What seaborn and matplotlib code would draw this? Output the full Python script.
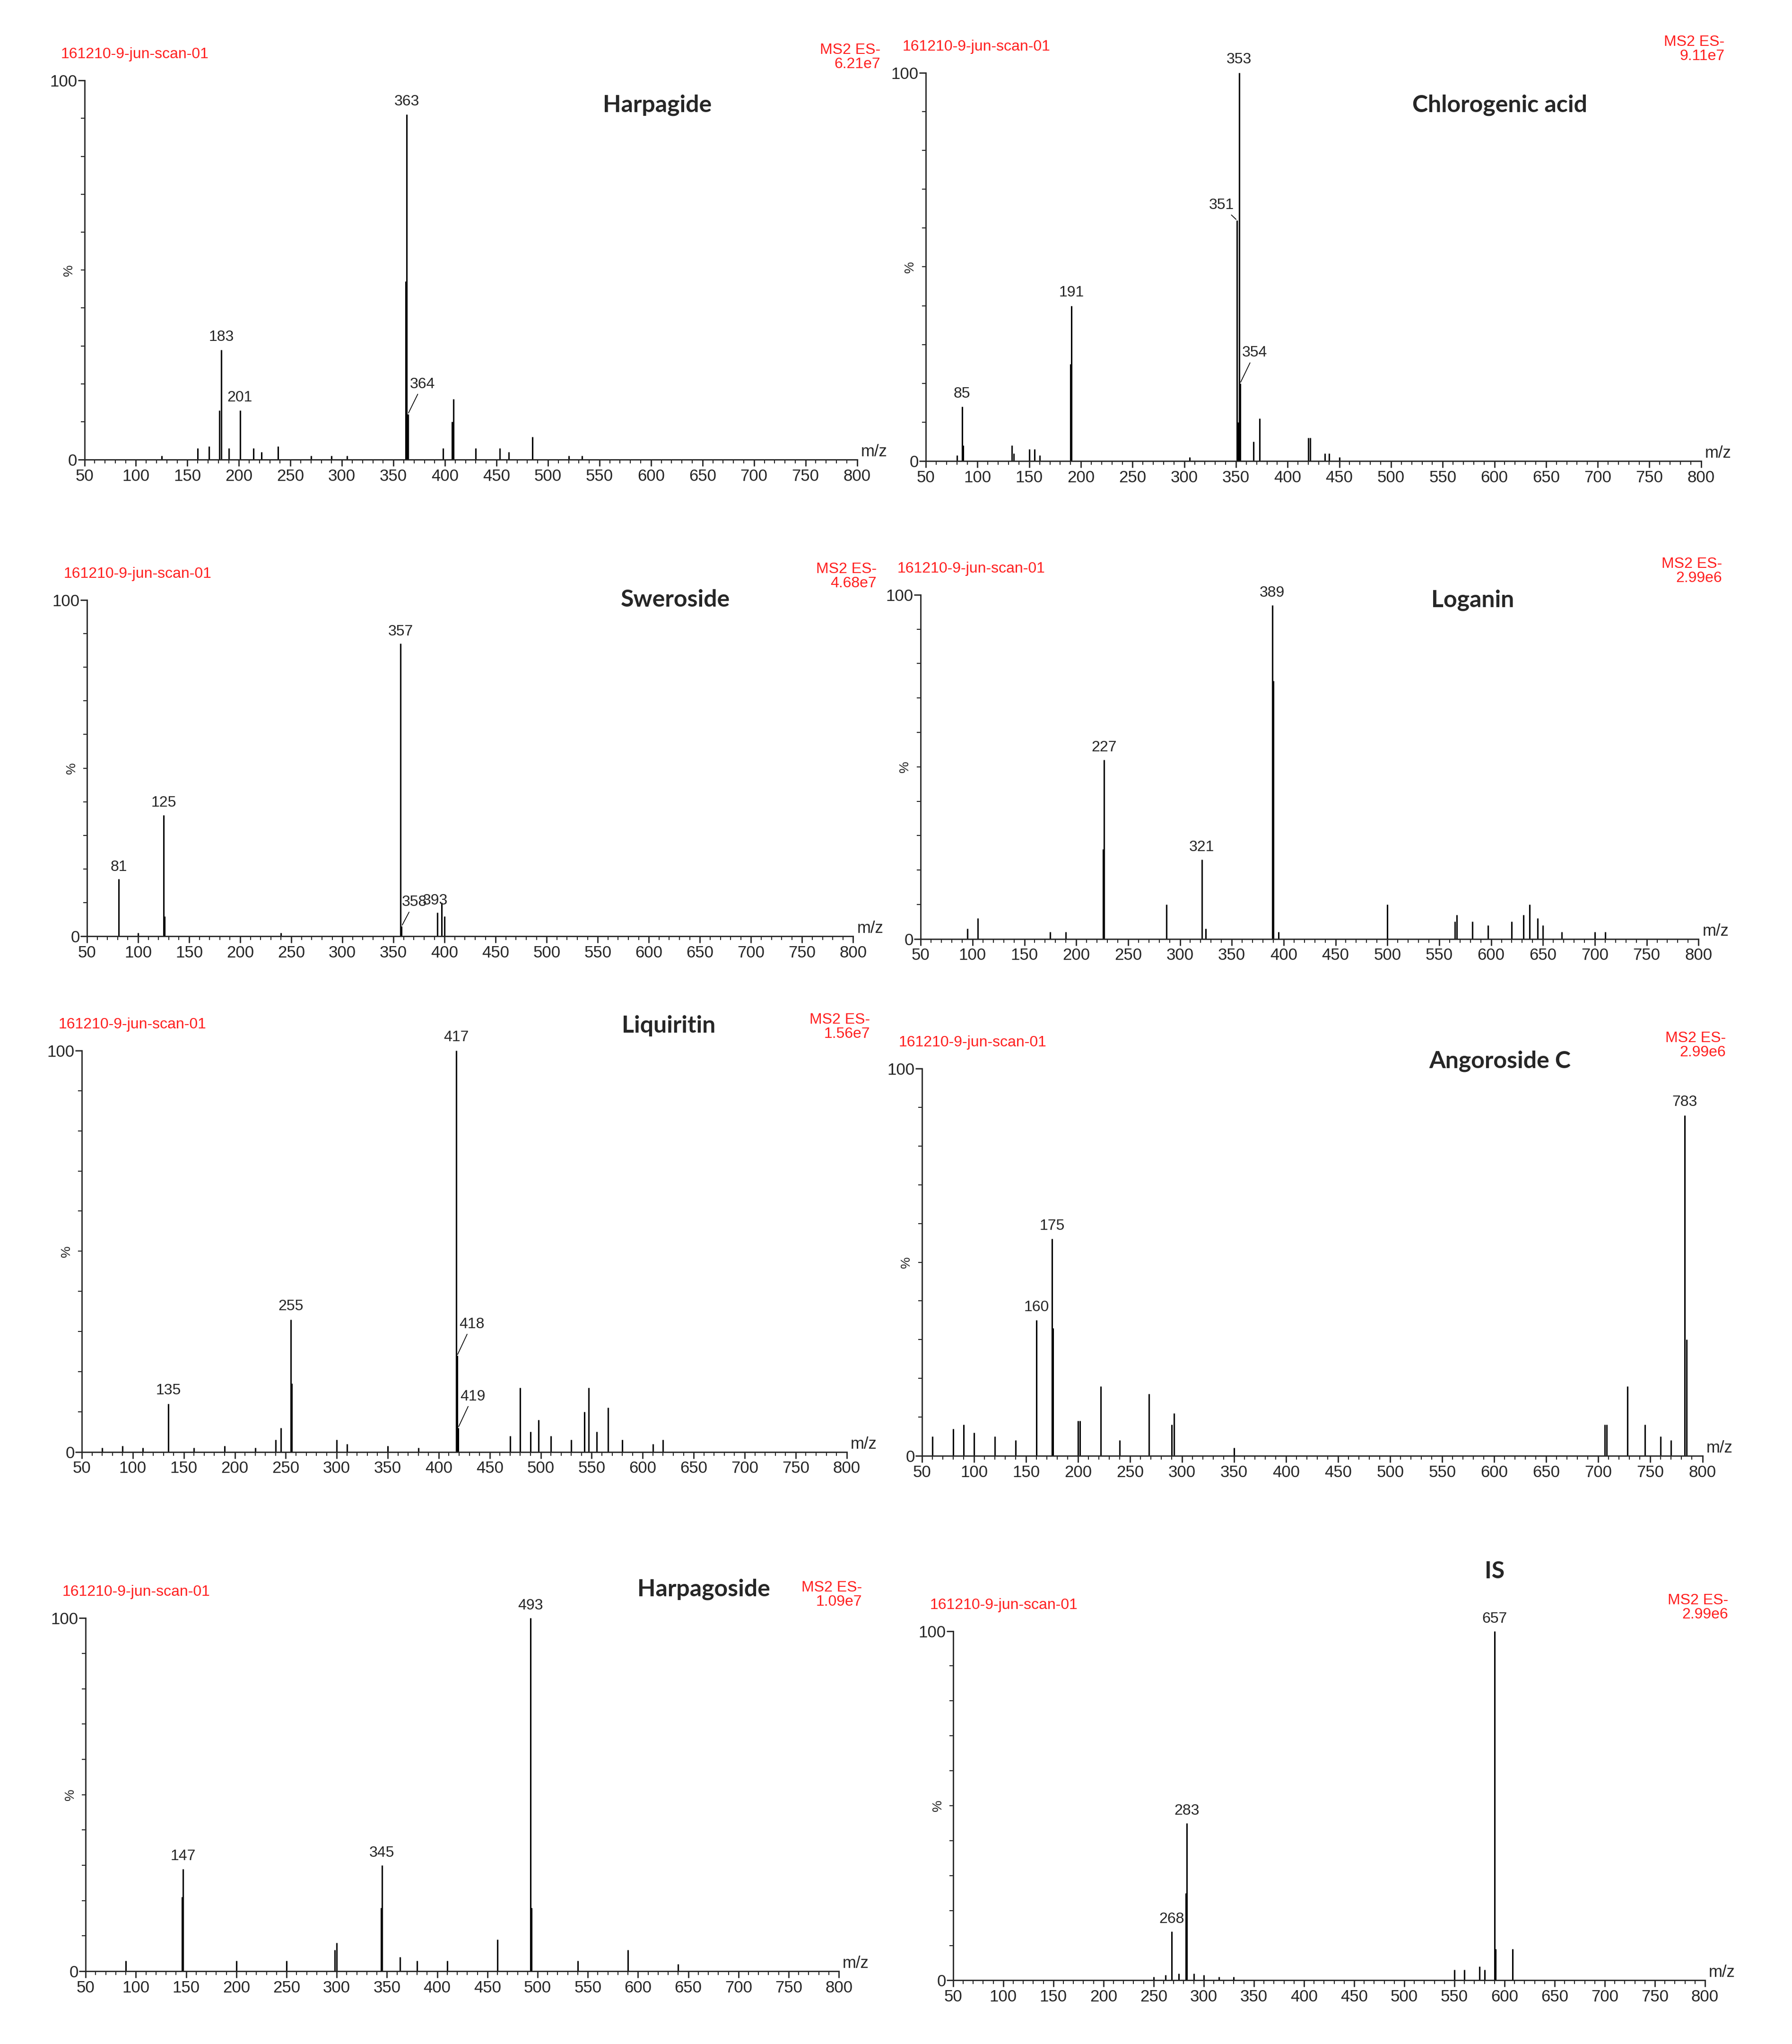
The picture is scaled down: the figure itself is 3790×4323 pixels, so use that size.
import matplotlib
matplotlib.use("Agg")
import matplotlib.pyplot as plt
import seaborn as sns
import numpy as np

sns.set_style("ticks")
plt.rcParams['font.family'] = ['Liberation Sans Narrow', 'Liberation Sans', 'DejaVu Sans']

# figure in "display" units of the reference (1380 wide), scaled to the real size
W, H = 1380.0, 1574.0

# ---- data: m/z, relative intensity, labelled peaks ----
harpagide_mz = [125, 160, 171, 181, 183, 190, 201, 214, 222, 238, 270, 290, 305, 362, 363, 364, 398, 407, 408, 430, 453, 462, 485, 520, 533]
harpagide_int = [1, 3, 3.5, 13, 29, 3, 13, 3, 2, 3.5, 1, 1, 1, 47, 91, 12, 3, 10, 16, 3, 3, 2, 6, 1, 1]
harpagide_lab = [(183, 29, "183"), (201, 13, "201"), (363, 91, "363"), (364, 12, "364")]

chloro_mz = [80, 85, 86, 133, 135, 150, 155, 160, 190, 191, 305, 351, 352, 353, 354, 367, 373, 420, 422, 436, 440, 450]
chloro_int = [1.5, 14, 4, 4, 2, 3, 3, 1.5, 25, 40, 1, 62, 10, 100, 20, 5, 11, 6, 6, 2, 2, 1]
chloro_lab = [(85, 14, "85"), (191, 40, "191"), (351, 62, "351"), (353, 100, "353"), (354, 20, "354")]

swero_mz = [81, 100, 125, 126, 240, 357, 358, 393, 397, 400]
swero_int = [17, 1, 36, 6, 1, 87, 3, 7, 10, 6]
swero_lab = [(81, 17, "81"), (125, 36, "125"), (357, 87, "357"), (358, 3, "358"), (393, 7, "393")]

loganin_mz = [95, 105, 175, 190, 226, 227, 287, 321, 325, 389, 390, 395, 500, 565, 567, 582, 597, 620, 631, 637, 645, 650, 668, 700, 710]
loganin_int = [3, 6, 2, 2, 26, 52, 10, 23, 3, 97, 75, 2, 10, 5, 7, 5, 4, 5, 7, 10, 6, 4, 2, 2, 2]
loganin_lab = [(227, 52, "227"), (321, 23, "321"), (389, 97, "389")]

liquir_mz = [70, 90, 110, 135, 160, 190, 220, 240, 245, 255, 256, 300, 310, 350, 380, 417, 418, 419, 470, 480, 490, 498, 510, 530, 543, 547, 555, 566, 580, 610, 620]
liquir_int = [1, 1.5, 1, 12, 1, 1.5, 1, 3, 6, 33, 17, 3, 2, 1.5, 1, 100, 24, 6, 4, 16, 5, 8, 4, 3, 10, 16, 5, 11, 3, 2, 3]
liquir_lab = [(135, 12, "135"), (255, 33, "255"), (417, 100, "417"), (418, 24, "418"), (419, 6, "419")]

angoro_mz = [60, 80, 90, 100, 120, 140, 160, 175, 176, 200, 202, 222, 240, 268, 290, 292, 350, 706, 708, 728, 745, 760, 770, 783, 785]
angoro_int = [5, 7, 8, 6, 5, 4, 35, 56, 33, 9, 9, 18, 4, 16, 8, 11, 2, 8, 8, 18, 8, 5, 4, 88, 30]
angoro_lab = [(160, 35, "160"), (175, 56, "175"), (783, 88, "783")]

harpago_mz = [90, 146, 147, 200, 250, 298, 300, 344, 345, 363, 380, 410, 460, 493, 494, 540, 590, 640]
harpago_int = [3, 21, 29, 3, 3, 6, 8, 18, 30, 4, 3, 3, 9, 100, 18, 3, 6, 2]
harpago_lab = [(147, 29, "147"), (345, 30, "345"), (493, 100, "493")]

is_mz = [250, 262, 268, 275, 282, 283, 290, 300, 315, 330, 550, 560, 575, 580, 590, 591, 608]
is_int = [1, 1.5, 14, 2, 25, 45, 2, 1.5, 1, 1, 3, 3, 4, 3, 100, 9, 9]
is_lab = [(268, 14, "268"), (283, 45, "283"), (590, 100, "657")]

titles = ["Harpagide", "Chlorogenic acid", "Sweroside", "Loganin",
          "Liquiritin", "Angoroside C", "Harpagoside", "IS"]
scales = ["6.21e7", "9.11e7", "4.68e7", "2.99e6", "1.56e7", "2.99e6", "1.09e7", "2.99e6"]
series = [(harpagide_mz, harpagide_int, harpagide_lab), (chloro_mz, chloro_int, chloro_lab),
          (swero_mz, swero_int, swero_lab), (loganin_mz, loganin_int, loganin_lab),
          (liquir_mz, liquir_int, liquir_lab), (angoro_mz, angoro_int, angoro_lab),
          (harpago_mz, harpago_int, harpago_lab), (is_mz, is_int, is_lab)]

# axes boxes (left, right, top, bottom) and title centres in reference display px
boxes = [(65, 660, 62, 354), (713, 1310, 56, 355), (67, 657, 462, 721), (709, 1308, 458, 723),
         (63, 652, 809, 1118), (710, 1311, 823, 1121), (66, 646, 1246, 1518), (734, 1313, 1256, 1525)]
title_pos = [(506, 81), (1155, 81), (520, 462), (1134, 462), (515, 790), (1155, 817), (542, 1224), (1151, 1210)]

fig = plt.figure(figsize=(37.9, 43.23), dpi=100)
red = "#ff2020"

for i in range(8):
    l, r, t, b = boxes[i]
    ax = fig.add_axes([l / W, 1 - b / H, (r - l) / W, (b - t) / H])
    mz, inten, lab = series[i]
    ax.vlines(mz, 0, inten, color="black", lw=2.2)
    ax.set_xlim(50, 800)
    ax.set_ylim(0, 100)
    ax.set_xticks(np.arange(50, 801, 50))
    ax.set_xticks(np.arange(50, 801, 10), minor=True)
    ax.set_yticks([0, 100])
    ax.set_yticks(np.arange(0, 101, 10), minor=True)
    ax.tick_params(axis="both", which="major", labelsize=25, length=10, width=2)
    ax.tick_params(axis="both", which="minor", length=6, width=1.5)
    ax.tick_params(axis="y", pad=1)
    sns.despine(ax=ax)
    for s in ["left", "bottom"]:
        ax.spines[s].set_linewidth(2)
    ax.text(-0.012, 0.5, "%", transform=ax.transAxes, rotation=90, ha="right", va="center", fontsize=20)
    ax.text(1.005, 0.0, "m/z", transform=ax.transAxes, ha="left", va="bottom", fontsize=25)
    for x, y, s in lab:
        if s in ("364", "354", "418", "419"):
            ax.annotate(s, (x, y), xytext=(x + 2, y + 6), fontsize=23, ha="left", va="bottom",
                        arrowprops=dict(arrowstyle="-", lw=1.2, color="black"))
        elif s == "358":
            ax.annotate(s, (x, y), xytext=(x, y + 5), fontsize=23, ha="left", va="bottom",
                        arrowprops=dict(arrowstyle="-", lw=1.2, color="black"))
        elif s == "351":
            ax.annotate(s, (x, y), xytext=(x - 3, y + 2), fontsize=23, ha="right", va="bottom",
                        arrowprops=dict(arrowstyle="-", lw=1.2, color="black"))
        elif s == "393":
            ax.text(x - 2, y + 1.5, s, ha="center", va="bottom", fontsize=23)
        else:
            ax.text(x, y + 1.5, s, ha="center", va="bottom", fontsize=23)
    # red headers
    fig.text((l - 18) / W, 1 - (t - 20) / H, "161210-9-jun-scan-01", color=red, fontsize=23, ha="left", va="center")
    fig.text((r + 18) / W, 1 - (t - 18) / H, "MS2 ES-\n" + scales[i], color=red, fontsize=23,
             ha="right", va="center", linespacing=1.0, multialignment="right")
    tx, ty = title_pos[i]
    fig.text(tx / W, 1 - ty / H, titles[i], fontsize=36, fontweight="bold", ha="center", va="center",
             family=["Lato", "DejaVu Sans"])

fig.savefig("out.png", dpi=100, facecolor="white")
